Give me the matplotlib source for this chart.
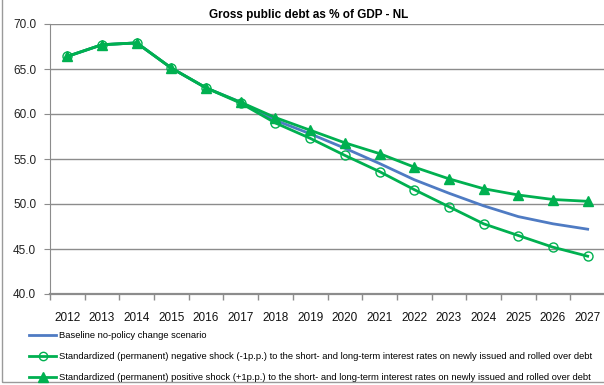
import matplotlib.pyplot as plt
from matplotlib.lines import Line2D
from matplotlib.patches import Rectangle

# data
years = list(range(2012, 2028))
baseline = [66.4, 67.7, 67.9, 65.1, 62.9, 61.3, 59.3, 57.8, 56.2, 54.5,
            52.7, 51.2, 49.8, 48.6, 47.8, 47.2]
neg_shock = [66.4, 67.7, 67.9, 65.1, 62.9, 61.2, 59.0, 57.3, 55.4, 53.6,
             51.6, 49.7, 47.8, 46.5, 45.2, 44.2]
pos_shock = [66.4, 67.7, 67.9, 65.1, 62.9, 61.3, 59.6, 58.2, 56.8, 55.6,
             54.1, 52.8, 51.7, 51.0, 50.5, 50.3]

labels = ['Baseline no-policy change scenario',
          'Standardized (permanent) negative shock (-1p.p.) to the short- and long-term '
          'interest rates on newly issued and rolled over debt',
          'Standardized (permanent) positive shock (+1p.p.) to the short- and long-term '
          'interest rates on newly issued and rolled over debt']

blue = '#4F7BC3'
green = '#00B050'
grid_col = '#8C8C8C'

W, H = 604, 385
fig = plt.figure(figsize=(W / 100, H / 100), dpi=100)
ax = fig.add_axes([50 / W, 1 - 294 / H, 555 / W, 270 / H])

x = list(range(len(years)))
ax.plot(x, baseline, color=blue, lw=2.0, zorder=3)
ax.plot(x, neg_shock, color=green, lw=2.0, marker='o', ms=6.5,
        mfc='none', mec=green, mew=1.0, zorder=4)
ax.plot(x, pos_shock, color=green, lw=2.0, marker='^', ms=7.5,
        mfc=green, mec=green, zorder=5)

ax.set_ylim(40, 70)
ax.set_xlim(-0.5, len(years) - 0.5)
ax.set_yticks(range(40, 71, 5))
ax.set_yticklabels([f'{v:.1f}' for v in range(40, 71, 5)],
                   family='Liberation Sans', fontsize=8.5, color='#222222')
ax.set_xticks(x)
ax.set_xticklabels([str(y) for y in years], family='Liberation Sans',
                   fontsize=8.5, color='#111111')
ax.set_xticks([i - 0.5 for i in range(len(years) + 1)], minor=True)
ax.tick_params(axis='x', which='major', length=0, pad=13)
ax.tick_params(axis='x', which='minor', length=4, color=grid_col, width=1)
ax.tick_params(axis='y', length=4, color=grid_col, pad=6)

ax.grid(axis='y', color=grid_col, lw=1.0, zorder=0)
ax.set_axisbelow(True)
for s in ['top', 'right']:
    ax.spines[s].set_visible(False)
ax.spines['left'].set_color(grid_col)
ax.spines['bottom'].set_color(grid_col)
ax.spines['bottom'].set_linewidth(1.6)

fig.text(309 / W, 1 - 15 / H, 'Gross public debt as % of GDP - NL',
         ha='center', va='center', fontsize=8.5, fontweight='bold',
         family='Liberation Sans')

handles = [
    Line2D([], [], color=blue, lw=2.0),
    Line2D([], [], color=green, lw=2.0, marker='o', ms=6, mfc='none', mec=green),
    Line2D([], [], color=green, lw=2.0, marker='^', ms=7, mfc=green, mec=green),
]
fig.legend(handles, labels, loc='upper left',
           bbox_to_anchor=(29 / W, 1 - 331 / H), frameon=False,
           prop={'family': ['Liberation Sans Narrow', 'Liberation Sans'], 'size': 6.75},
           handlelength=2.9, handletextpad=0.3, labelspacing=1.3,
           borderaxespad=0, borderpad=0)

# outer chart border
fig.patches.append(Rectangle((2 / W, 3 / H), 1.0, 1.0, transform=fig.transFigure,
                             fill=False, ec='#9A9A9A', lw=1.0))

fig.savefig('out.png', dpi=100)
